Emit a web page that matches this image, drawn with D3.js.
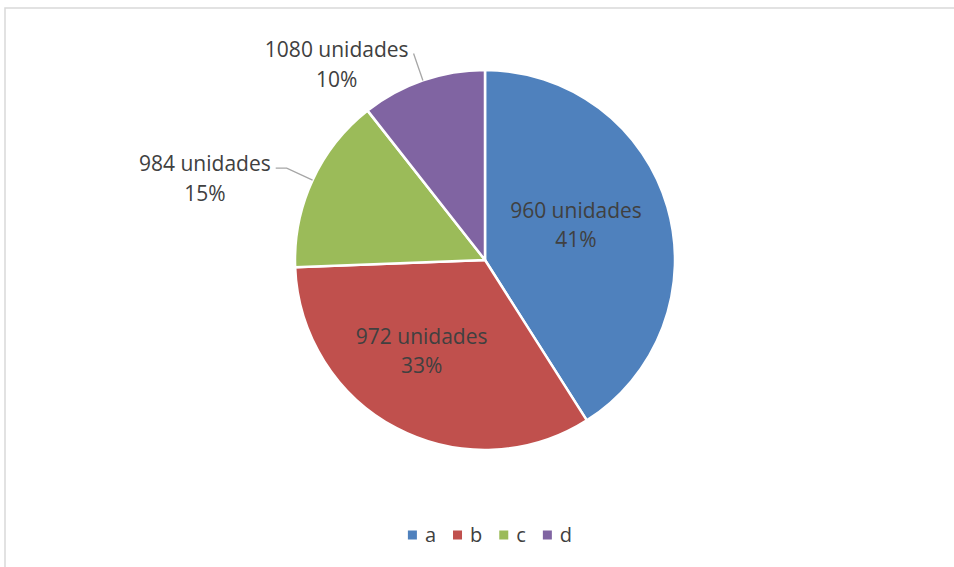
<!DOCTYPE html>
<html>
<head>
<meta charset="utf-8">
<script src="https://cdn.jsdelivr.net/npm/d3@7"></script>
<style>
  html, body { margin: 0; padding: 0; background: #fff; }
  svg { display: block; font-family: "Open Sans", sans-serif; }
</style>
</head>
<body>
<svg id="chart" width="954" height="567"></svg>
<script>
// data
const categories = ["a", "b", "c", "d"];
const shares = [41.0, 33.4, 15.0, 10.6];
const unitLabels = ["960 unidades", "972 unidades", "984 unidades", "1080 unidades"];
const pctLabels = ["41%", "33%", "15%", "10%"];
const colors = ["#4F81BD", "#C0504D", "#9BBB59", "#8064A2"];

const width = 954;
const height = 567;
const cx = 485;
const cy = 260;
const radius = 190;
const textColor = "#404040";

const svg = d3.select("#chart");

// outer chart frame (right and bottom run off the picture)
svg.append("rect")
  .attr("x", 5).attr("y", 8)
  .attr("width", 1000).attr("height", 600)
  .attr("fill", "#fff")
  .attr("stroke", "#d9d9d9")
  .attr("stroke-width", 1.5);

const rows = categories.map((c, i) => ({
  name: c, share: shares[i], units: unitLabels[i], pct: pctLabels[i], color: colors[i]
}));

//pie layout//
const pie = d3.pie().sort(null).value(d => d.share);
const arcs = pie(rows);

const arc = d3.arc().innerRadius(0).outerRadius(radius);
const labelArc = d3.arc().innerRadius(radius * 0.57).outerRadius(radius * 0.57);
const edgeArc = d3.arc().innerRadius(radius).outerRadius(radius);
const elbowArc = d3.arc().innerRadius(radius * 1.15).outerRadius(radius * 1.15);

const g = svg.append("g").attr("transform", `translate(${cx},${cy})`);

//draw slices//
g.selectAll("path.slice")
  .data(arcs)
  .join("path")
  .attr("class", "slice")
  .attr("d", arc)
  .attr("fill", d => d.data.color)
  .attr("stroke", "#fff")
  .attr("stroke-width", 2.5)
  .attr("stroke-linejoin", "round");

// slices big enough get their label inside
const isInside = d => (d.endAngle - d.startAngle) > 1.2;

//inside labels//
arcs.filter(isInside).forEach(d => {
  const [x, y] = labelArc.centroid(d);
  const t = g.append("text")
    .attr("text-anchor", "middle")
    .attr("fill", textColor)
    .attr("font-size", 21);
  t.append("tspan").attr("x", x - 13).attr("y", y - 12).text(d.data.units);
  t.append("tspan").attr("x", x - 13).attr("y", y + 17).text(d.data.pct);
});

//outside labels with leader lines//
arcs.filter(d => !isInside(d)).forEach(d => {
  const [sx, sy] = edgeArc.centroid(d);
  const [ex, ey] = elbowArc.centroid(d);
  const mid = (d.startAngle + d.endAngle) / 2;
  // side labels get a short horizontal tail, top labels do not
  const hx = Math.abs(Math.sin(mid)) > 0.7 ? ex - 11 : ex;
  g.append("polyline")
    .attr("points", [[sx, sy], [ex, ey], [hx, ey]].map(p => p.join(",")).join(" "))
    .attr("fill", "none")
    .attr("stroke", "#a6a6a6")
    .attr("stroke-width", 1.3);

  const t = g.append("text")
    .attr("text-anchor", "middle")
    .attr("fill", textColor)
    .attr("font-size", 21);
  const first = t.append("tspan").attr("y", ey + 3).text(d.data.units);
  const w = first.node().getComputedTextLength();
  const cxText = hx - 5 - w / 2;
  first.attr("x", cxText);
  t.append("tspan").attr("x", cxText).attr("y", ey + 33).text(d.data.pct);
});

//legend//
const legend = svg.append("g");
const items = legend.selectAll("g")
  .data(rows)
  .join("g");
items.append("rect")
  .attr("width", 9).attr("height", 9)
  .attr("y", -4.5)
  .attr("fill", d => d.color);
items.append("text")
  .attr("x", 17)
  .attr("dy", "0.35em")
  .attr("fill", textColor)
  .attr("font-size", 20)
  .text(d => d.name);

let offset = 0;
items.each(function () {
  const node = d3.select(this);
  node.attr("transform", `translate(${offset},0)`);
  offset += 17 + node.select("text").node().getComputedTextLength() + 17;
});
const legendWidth = offset - 17;
legend.attr("transform", `translate(${490 - legendWidth / 2},535)`);
</script>
</body>
</html>
